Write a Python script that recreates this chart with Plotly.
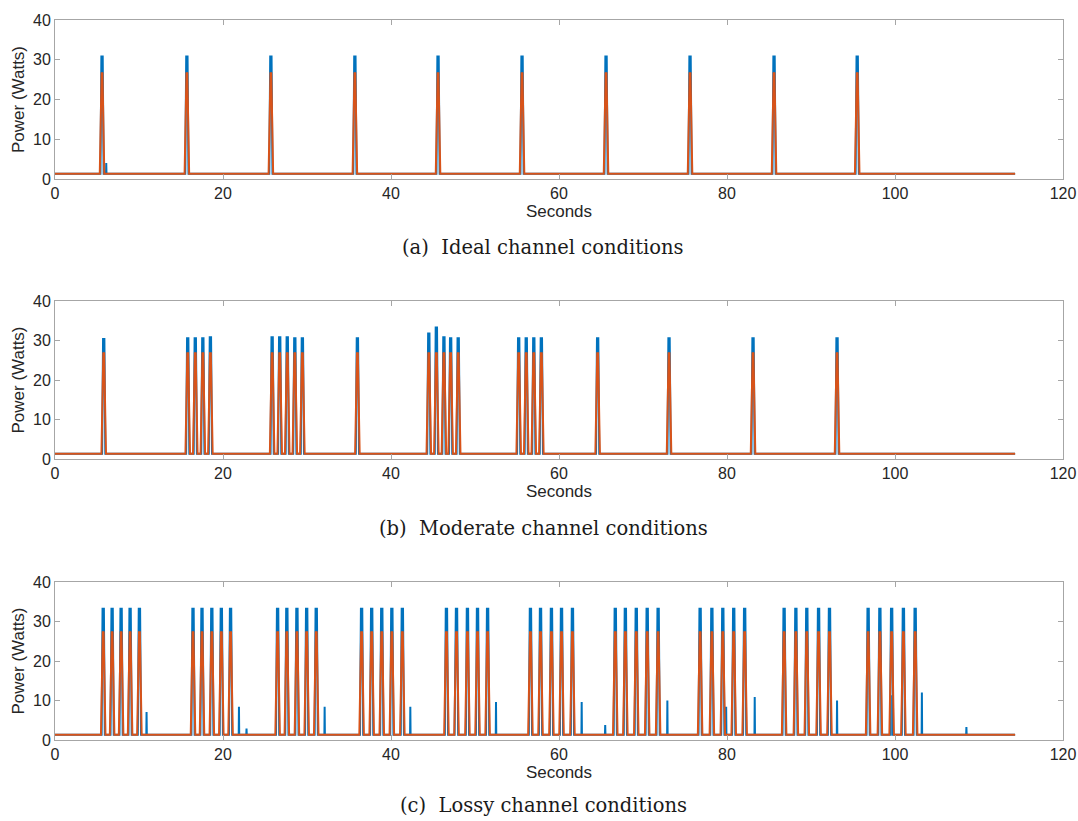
import plotly.graph_objects as go

# ---------------- data ----------------
baseline = 1.3
t_end = 114.3

# (a) Ideal channel conditions
ideal_pulses = [5.6, 15.7, 25.7, 35.7, 45.6, 55.6, 65.6, 75.6, 85.6, 95.5]
ideal_blue_peak = [30.8] * 10
ideal_orange_peak = 26.6
ideal_spike_t = [6.1]
ideal_spike_h = [4.0]

# (b) Moderate channel conditions
moderate_pulses = [5.8,
                   15.8, 16.7, 17.6, 18.5,
                   25.85, 26.75, 27.65, 28.55, 29.45,
                   36.0,
                   44.5, 45.4, 46.3, 47.1, 48.0,
                   55.2, 56.1, 57.0, 57.9,
                   64.6, 73.1, 83.1, 93.1]
moderate_blue_peak = [30.4,
                      30.6, 30.6, 30.6, 30.8,
                      30.8, 30.8, 30.8, 30.6, 30.6,
                      30.6,
                      31.8, 33.3, 30.8, 30.6, 30.6,
                      30.6, 30.6, 30.6, 30.6,
                      30.6, 30.6, 30.6, 30.6]
moderate_orange_peak = 26.8
moderate_spike_t = []
moderate_spike_h = []

# (c) Lossy channel conditions
lossy_pulses = [5.74, 6.8, 7.87, 8.94, 10.05,
                16.43, 17.5, 18.67, 19.8, 20.9,
                26.5, 27.6, 28.8, 29.96, 31.1,
                36.5, 37.7, 38.9, 40.1, 41.35,
                46.6, 47.8, 49.1, 50.3, 51.5,
                56.6, 57.8, 59.1, 60.3, 61.6,
                66.7, 67.9, 69.2, 70.5, 71.8,
                76.8, 78.2, 79.5, 80.8, 82.1,
                86.8, 88.2, 89.5, 90.9, 92.2,
                96.8, 98.2, 99.6, 101.0, 102.4]
lossy_blue_peak = [33.2] * 50
lossy_orange_peak = 27.3
lossy_spike_t = [10.9, 21.9, 22.8, 32.1, 42.3, 47.6, 52.5, 62.7, 65.5, 72.9,
                 79.9, 83.3, 93.1, 99.7, 103.2, 108.5]
lossy_spike_h = [7.1, 8.4, 2.9, 8.4, 8.4, 10.9, 9.6, 9.6, 3.8, 10.0,
                 8.4, 10.9, 10.0, 11.3, 12.0, 3.3]

x_ticks = [0, 20, 40, 60, 80, 100, 120]
y_ticks = [0, 10, 20, 30, 40]
captions = ["(a)  Ideal channel conditions",
            "(b)  Moderate channel conditions",
            "(c)  Lossy channel conditions"]

BLUE = "#0072BD"
ORANGE = "#D95319"


def pulse_trace(pulses, peaks, w_base, w_top, spikes_t=(), spikes_h=()):
    events = []
    for t, p in zip(pulses, peaks):
        events.append((t - w_base, [(t - w_base, baseline), (t - w_top, p),
                                    (t + w_top, p), (t + w_base, baseline)]))
    for t, h in zip(spikes_t, spikes_h):
        events.append((t - 0.03, [(t - 0.03, baseline), (t, h), (t + 0.03, baseline)]))
    events.sort(key=lambda e: e[0])
    xs, ys = [0.0], [baseline]
    for _, pts in events:
        for x, y in pts:
            xs.append(x)
            ys.append(y)
    xs.append(t_end)
    ys.append(baseline)
    return xs, ys


panels = [
    (ideal_pulses, ideal_blue_peak, ideal_orange_peak, ideal_spike_t, ideal_spike_h),
    (moderate_pulses, moderate_blue_peak, moderate_orange_peak, moderate_spike_t, moderate_spike_h),
    (lossy_pulses, lossy_blue_peak, lossy_orange_peak, lossy_spike_t, lossy_spike_h),
]

# body margin is removed in the page (post_script), so page px == figure px
W, H = 1078, 821
left_px, right_px = 55, 1063
panel_px = [(20, 179), (301, 459), (582, 740)]
caption_px = [247, 528, 806]
ML = left_px
MR = W - right_px
MT = panel_px[0][0]
MB = H - panel_px[2][1]
plot_h = H - MT - MB


def py(pix):
    return 1 - (pix - MT) / plot_h


fig = go.Figure()
FONT = "Liberation Sans, Arial, sans-serif"
axis_font = dict(family=FONT, size=16, color="#262626")
title_font = dict(family=FONT, size=17, color="#262626")

for i, (pulses, bpeaks, opeak, st, sh) in enumerate(panels):
    xa = "x" if i == 0 else f"x{i+1}"
    ya = "y" if i == 0 else f"y{i+1}"
    bx, by = pulse_trace(pulses, bpeaks, 0.19, 0.08, st, sh)
    ox, oy = pulse_trace(pulses, [opeak] * len(pulses), 0.27, 0.05)
    fig.add_trace(go.Scatter(x=bx, y=by, mode="lines", line=dict(color=BLUE, width=2),
                             xaxis=xa, yaxis=ya, showlegend=False))
    fig.add_trace(go.Scatter(x=ox, y=oy, mode="lines", line=dict(color=ORANGE, width=2),
                             xaxis=xa, yaxis=ya, showlegend=False))
    top, bot = panel_px[i]
    xkey = "xaxis" if i == 0 else f"xaxis{i+1}"
    ykey = "yaxis" if i == 0 else f"yaxis{i+1}"
    fig.update_layout(**{
        xkey: dict(domain=[0, 1], anchor=ya, range=[0, 120], tickvals=x_ticks,
                   showgrid=False, zeroline=False, showline=True, mirror="ticks",
                   linecolor="#a6a6a6", linewidth=1, ticks="inside", ticklen=5,
                   tickcolor="#a6a6a6", tickfont=axis_font,
                   title=dict(text="Seconds", font=title_font, standoff=0)),
        ykey: dict(domain=[py(bot), py(top)], anchor=xa, range=[0, 40], tickvals=y_ticks,
                   showgrid=False, zeroline=False, showline=True, mirror="ticks",
                   linecolor="#a6a6a6", linewidth=1, ticks="inside", ticklen=5,
                   tickcolor="#a6a6a6", tickfont=axis_font,
                   title=dict(text="Power (Watts)", font=title_font, standoff=4)),
    })
    fig.add_annotation(text=captions[i], xref="paper", yref="paper",
                       x=(543 - left_px) / (right_px - left_px), y=py(caption_px[i]),
                       xanchor="center", yanchor="middle", showarrow=False,
                       font=dict(family="DejaVu Serif, serif", size=19.5, color="#1a1a1a"))

fig.update_layout(width=W, height=H, margin=dict(l=ML, r=MR, t=MT, b=MB, autoexpand=False),
                  paper_bgcolor="white", plot_bgcolor="white")

fig.write_html(
    "out.html",
    config={"displayModeBar": False},
    post_script=("document.documentElement.style.margin='0';"
                 "document.documentElement.style.overflow='hidden';"
                 "document.body.style.margin='0';"
                 "document.body.style.overflow='hidden';"),
)
